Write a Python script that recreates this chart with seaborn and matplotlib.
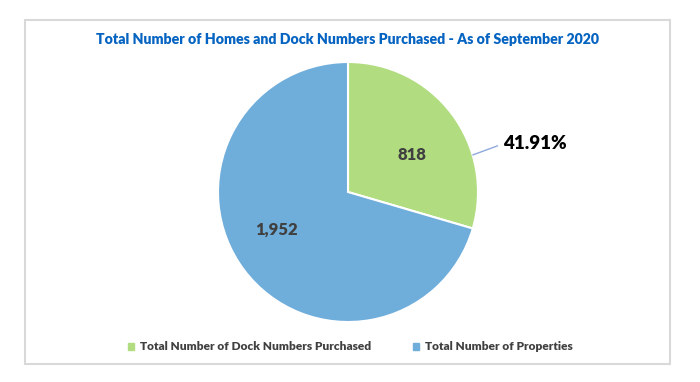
import matplotlib.pyplot as plt
import matplotlib.patches as mpatches
import seaborn as sns
import numpy as np

# data
labels = ["Total Number of Dock Numbers Purchased", "Total Number of Properties"]
values = [818, 1952]
value_text = ["818", "1,952"]
ratio_text = "41.91%"
title = "Total Number of Homes and Dock Numbers Purchased - As of September 2020"

sns.set_theme(style="white")
plt.rcParams['font.family'] = ['Lato', 'DejaVu Sans']
colors = ["#B1DD80", "#6FADDB"]

W, H = 700, 382
fig = plt.figure(figsize=(7, 3.82), dpi=100)
fig.patch.set_facecolor("white")

# light grey frame round the chart
fig.add_artist(mpatches.Rectangle((25 / W, 1 - 364 / H), 645 / W, 344 / H,
                                  transform=fig.transFigure, fill=False,
                                  edgecolor="#D9D9D9", linewidth=1.5))

fig.text(348 / W, 1 - 39 / H, title, ha="center", va="center",
         fontsize=10.2, fontweight="heavy", color="#0563C1")

cx, cy, r = 348, 192, 130
ax = fig.add_axes([(cx - r) / W, 1 - (cy + r) / H, 2 * r / W, 2 * r / H])
wedges, texts = ax.pie(values, colors=colors, startangle=90, counterclock=False,
                       labels=value_text, labeldistance=0.48,
                       wedgeprops=dict(edgecolor="white", linewidth=1.5),
                       textprops=dict(fontsize=12, fontweight="heavy", color="#404040"))
ax.set_xlim(-1, 1)
ax.set_ylim(-1, 1)
ax.set_aspect("equal")

# leader line and ratio label for the green slice
ax.plot([0.96, 1.15], [0.285, 0.355], color="#8EA9DB", linewidth=1, clip_on=False)
ax.text(1.19, 0.37, ratio_text, ha="left", va="center", fontsize=13.5,
        fontweight="heavy", color="black", clip_on=False)

handles = [mpatches.Patch(color=c) for c in colors]
fig.legend(handles, labels, loc="center", bbox_to_anchor=(350 / W, 1 - 347 / H),
           ncol=2, frameon=False, handlelength=0.5, handleheight=0.5,
           handletextpad=0.5, columnspacing=3.5,
           prop=dict(size=8.6, weight="heavy"), labelcolor="#404040")

fig.savefig("out.png", dpi=100, facecolor="white")
